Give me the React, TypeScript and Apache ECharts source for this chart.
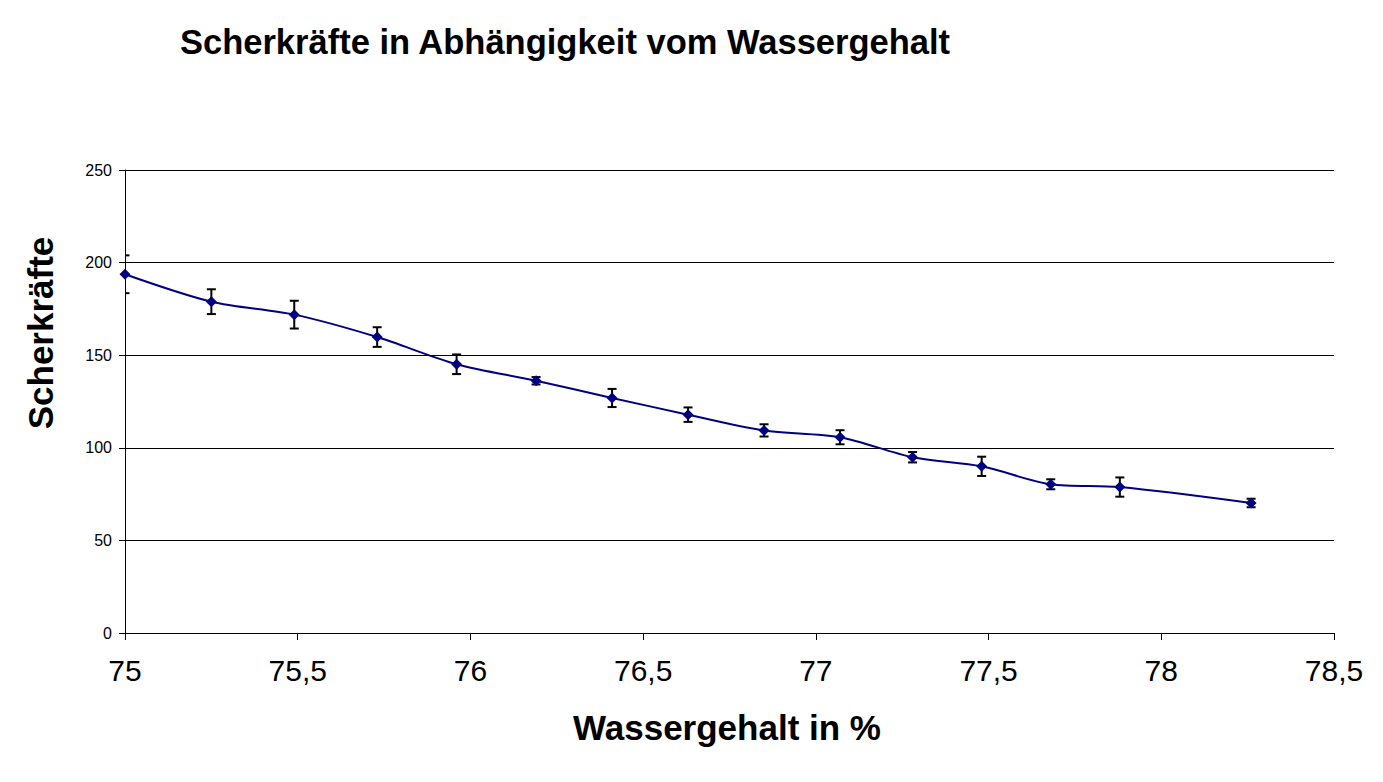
import React, { useEffect, useRef } from "react";
import * as echarts from "echarts";

const titleText = "Scherkräfte in Abhängigkeit vom Wassergehalt";
const xAxisTitle = "Wassergehalt in %";
const yAxisTitle = "Scherkräfte";

const waterContent = [75.0, 75.25, 75.49, 75.73, 75.96, 76.19, 76.41, 76.63, 76.85, 77.07, 77.28, 77.48, 77.68, 77.88, 78.26];
const shearForce = [193.7, 178.9, 171.9, 159.8, 145.1, 136.2, 126.9, 117.9, 109.4, 105.7, 94.9, 90.0, 80.3, 78.8, 70.2];
const errorAmount = [10.2, 6.7, 7.5, 5.3, 5.3, 2.0, 4.9, 3.9, 3.3, 3.8, 2.8, 5.2, 2.7, 5.2, 2.3];

const FONT = "'Liberation Sans', Arial, sans-serif";

export default function App() {
  const ref = useRef<HTMLDivElement>(null);
  useEffect(() => {
    if (!ref.current) return;
    const chart = echarts.init(ref.current, null, { renderer: "svg" });
    const lineData = waterContent.map((x, i) => [x, shearForce[i]]);
    const errData = waterContent.map((x, i) => [x, shearForce[i] - errorAmount[i], shearForce[i] + errorAmount[i]]);
    chart.setOption({
      animation: false,
      backgroundColor: "#ffffff",
      textStyle: { fontFamily: FONT },
      grid: { left: 125, top: 170, right: 49, bottom: 149, containLabel: false },
      graphic: [
        {
          type: "text", x: 565, y: 42,
          style: { text: titleText, font: `bold 34.5px ${FONT}`, fill: "#000", align: "center", verticalAlign: "middle" },
        },
        {
          type: "text", x: 40, y: 333, rotation: Math.PI / 2,
          style: { text: yAxisTitle, font: `bold 35px ${FONT}`, fill: "#000", align: "center", verticalAlign: "middle" },
        },
        {
          type: "text", x: 727, y: 727,
          style: { text: xAxisTitle, font: `bold 35px ${FONT}`, fill: "#000", align: "center", verticalAlign: "middle" },
        },
      ],
      xAxis: {
        type: "value", min: 75, max: 78.5, interval: 0.5,
        axisLine: { lineStyle: { color: "#000", width: 1 } },
        axisTick: { show: true, length: 7, lineStyle: { color: "#000" } },
        splitLine: { show: false },
        axisLabel: {
          color: "#000", fontSize: 30, fontFamily: FONT, margin: 22,
          formatter: (v: number) => String(v).replace(".", ","),
        },
      },
      yAxis: {
        type: "value", min: 0, max: 250, interval: 50,
        axisLine: { show: true, lineStyle: { color: "#000", width: 1 } },
        axisTick: { show: true, length: 6, lineStyle: { color: "#000" } },
        splitLine: { show: true, lineStyle: { color: "#000", width: 1 } },
        axisLabel: { color: "#000", fontSize: 16, fontFamily: FONT, margin: 13 },
      },
      series: [
        {
          type: "custom",
          clip: true,
          z: 2,
          data: errData,
          encode: { x: 0, y: [1, 2] },
          renderItem: (params: any, api: any) => {
            const x = api.value(0);
            const lo = api.coord([x, api.value(1)]);
            const hi = api.coord([x, api.value(2)]);
            const hw = 4.5;
            const style = { stroke: "#000", lineWidth: 2 };
            return {
              type: "group",
              children: [
                { type: "line", shape: { x1: lo[0], y1: lo[1], x2: hi[0], y2: hi[1] }, style },
                { type: "line", shape: { x1: lo[0] - hw, y1: lo[1], x2: lo[0] + hw, y2: lo[1] }, style },
                { type: "line", shape: { x1: hi[0] - hw, y1: hi[1], x2: hi[0] + hw, y2: hi[1] }, style },
              ],
            };
          },
        },
        {
          type: "line",
          z: 3,
          data: lineData,
          smooth: 0.3,
          symbol: "diamond",
          symbolSize: 11,
          lineStyle: { color: "#000080", width: 2 },
          itemStyle: { color: "#000080" },
        },
      ],
    });
    return () => chart.dispose();
  }, []);
  return (
    <div
      ref={ref}
      style={{ position: "fixed", left: 0, top: 0, width: 1383, height: 782, background: "#fff" }}
    />
  );
}
